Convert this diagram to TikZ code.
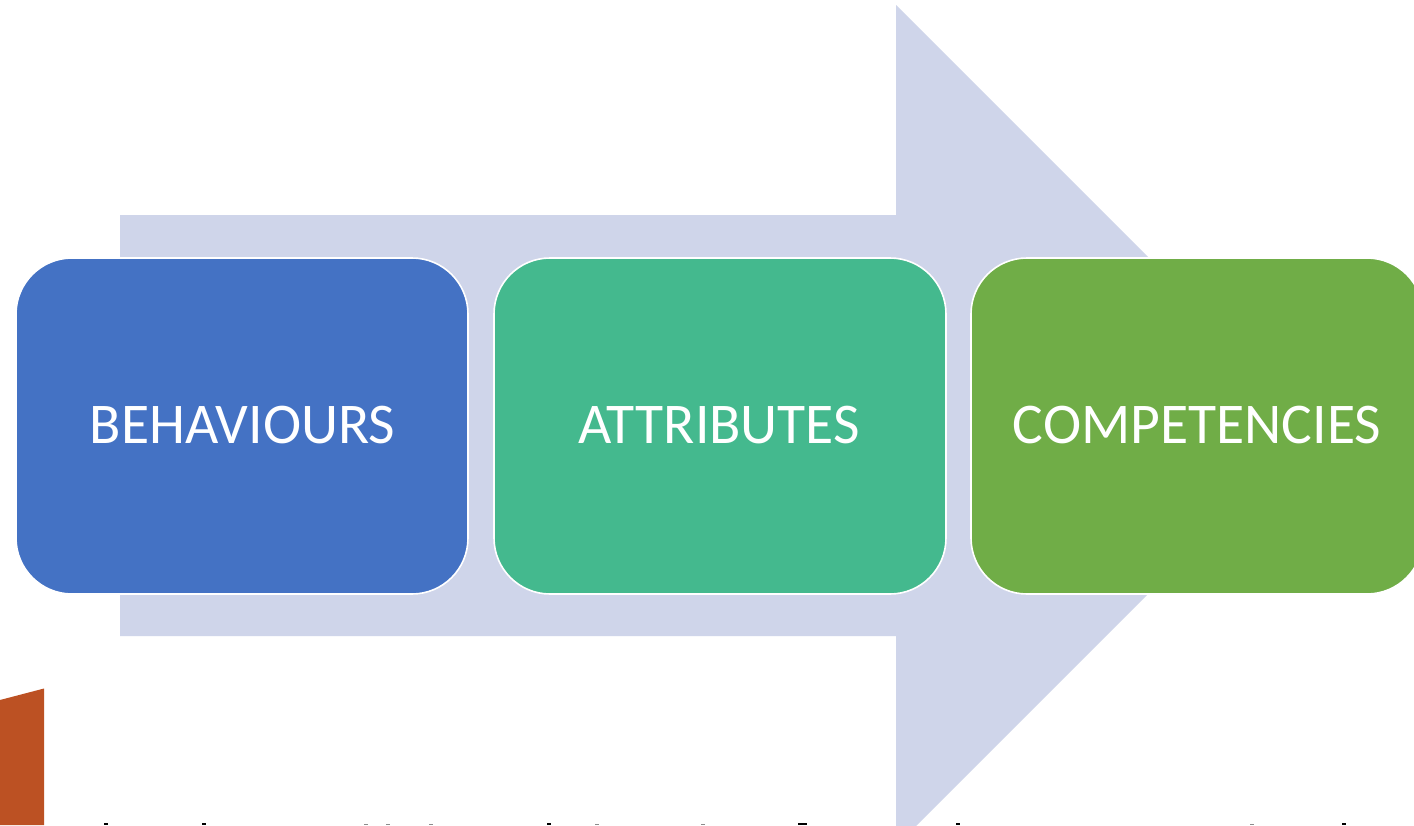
\documentclass[tikz,border=0pt]{standalone}
\usepackage{fontspec}
\setmainfont{Carlito}
\definecolor{arrowfill}{HTML}{CFD5EA}
\definecolor{bluebox}{HTML}{4472C4}
\definecolor{tealbox}{HTML}{44B98E}
\definecolor{greenbox}{HTML}{70AD47}
\definecolor{rust}{HTML}{BC5123}
\tikzset{
  stagebox/.style={draw=white,line width=1.6pt,rounded corners=56pt,minimum width=452pt,minimum height=336pt,
    inner sep=0pt},
  stagetext/.style={text=white,font=\fontsize{57.6}{66}\selectfont,anchor=base,inner sep=0pt},
  inkmark/.style={fill=black,draw=none},
  faintmark/.style={fill=black!45,draw=none}
}
\begin{document}
\begin{tikzpicture}[x=1pt,y=-1pt]
\useasboundingbox (0,0) rectangle (1414,825);
\clip (0,0) rectangle (1414,825);
\fill[white] (0,0) rectangle (1414,825);
% big arrow
\fill[arrowfill] (120,215) -- (896,215) -- (896,5) -- (1316.5,425.5) -- (896,846) -- (896,636) -- (120,636) -- cycle;
% rust shape at lower left
\fill[rust] (0,700) -- (44,688.5) -- (44,825) -- (0,825) -- cycle;
% stages
\node[stagebox,fill=bluebox] (behaviours) at (242,426) {};
\node[stagebox,fill=tealbox] (attributes) at (720,426) {};
\node[stagebox,fill=greenbox] (competencies) at (1197,426) {};
\node[stagetext] (t1) at (242.5,443) {BEHAVIOURS};
\node[stagetext] (t2) at (719,443) {ATTRIBUTES};
\node[stagetext] (t3) at (1197,443) {COMPETENCIES};
% tips of a cropped line of text along the lower edge
\foreach \x in {106,204,549,958,1344}{\fill[inkmark] (\x-2,823.2) rectangle (\x+2,825);}
\fill[inkmark] (798,823.2) rectangle (807,825);
\foreach \x in {366,388,431,597,703,1252}{\fill[faintmark] (\x-2,824) rectangle (\x+2,825);}
\end{tikzpicture}
\end{document}
